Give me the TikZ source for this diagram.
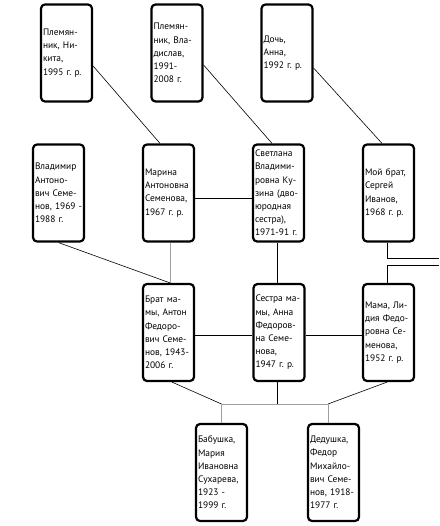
\documentclass[tikz,border=0pt]{standalone}
\usepackage{fontspec}
\setmainfont{PT Sans}
\usetikzlibrary{calc}
\hyphenpenalty=10000
\exhyphenpenalty=10000
\frenchspacing

\begin{document}
\begin{tikzpicture}[x=1pt, y=-1pt]
\tikzstyle{person} = [rectangle, draw = black, line width = 2.2pt, rounded corners = 4pt,
  minimum width = 51pt, minimum height = 97pt, text width = 47pt, inner xsep = 2pt,
  align = left, font = \fontsize{9.4}{13.2}\selectfont]
\tikzstyle{tie} = [line width = 0.9pt]
\tikzstyle{link} = [line width = 0.6pt]
\tikzstyle{kin} = [line width = 0.7pt, gray!75]
\useasboundingbox (0, 0) rectangle (439, 526);
% -----------------------------------
% Children
\node[person] (nikita) at (66.5, 53) {Племян-\\ник, Ни-\\кита,\\1995 г. р.};
\node[person] (vladislav) at (177, 53) {Племян-\\ник, Вла-\\дислав,\\1991-\\2008 г.};
\node[person] (anna) at (287, 53) {Дочь,\\Анна,\\1992 г. р.};

% -----------------------------------
% Cousins and brother
\node[person] (vladimir) at (58.5, 193) {Владимир\\Антоно-\\вич Семе-\\нов,~1969~-\\1988 г.};
\node[person] (marina) at (168.5, 193) {Марина\\Антоновна\\Семенова,\\1967 г. р.};
\node[person] (svetlana) at (278.5, 193) {Светлана\\Владими-\\ровна Ку-\\зина (дво-\\юродная\\сестра),\\1971-91 г.};
\node[person] (sergey) at (388.5, 193) {Мой брат,\\Сергей\\Иванов,\\1968 г. р.};

\draw[link] ([yshift=-13pt]nikita.east)--([xshift=-8.5pt]marina.north);
\draw[link] ([yshift=-12pt]vladislav.east)--([xshift=-6.5pt]svetlana.north);
\draw[link] ([yshift=-15pt]anna.east)--([xshift=-6.5pt]sergey.north);
\draw[tie] ([yshift=-5pt]marina.east)--([yshift=-5pt]svetlana.west);

% -----------------------------------
% Mother and her siblings
\node[person] (anton) at (168.5, 332.5) {Брат ма-\\мы, Антон\\Федоро-\\вич Семе-\\нов,~1943-\\2006 г.};
\node[person] (annaf) at (279, 332.5) {Сестра ма-\\мы, Анна\\Федоров-\\на Семе-\\нова,\\1947 г. р.};
\node[person] (lidiya) at (388.5, 332.5) {Мама, Ли-\\дия Федо-\\ровна Се-\\менова,\\1952 г. р.};

\coordinate (outA) at (439, 258);
\coordinate (outB) at (439, 265);

\draw[link] (vladimir.south)--([xshift=1.5pt]anton.north);
\draw[kin] ([xshift=1.5pt]marina.south)--([xshift=1.5pt]anton.north);
\draw[tie] ([xshift=-1.5pt]svetlana.south)--([xshift=-2pt]annaf.north);
\draw[tie] ([xshift=-1.5pt]sergey.south) |- (outA);
\draw[tie] (outB) -| ([xshift=-1.5pt]lidiya.north);
\draw[tie] ([yshift=-2.5pt]anton.east)--([yshift=-2.5pt]annaf.west);
\draw[tie] ([yshift=-2.5pt]annaf.east)--([yshift=-2.5pt]lidiya.west);

% -----------------------------------
% Grandparents
\node[person] (mariya) at (221.5, 472.5) {Бабушка,\\Мария\\Ивановна\\Сухарева,\\1923~-\\1999 г.};
\node[person] (fedor) at (333.5, 472.5) {Дедушка,\\Федор\\Михайло-\\вич Семе-\\нов,~1918-\\1977 г.};

\coordinate (jleft) at (221.5, 404);
\coordinate (jright) at (328, 404);

\draw[link] ([xshift=3.5pt]anton.south)--(jleft);
\draw[link] ([xshift=-1.5pt]lidiya.south)--(jright);
\draw[tie] ([xshift=-2pt]annaf.south)--([xshift=-2pt]annaf.south |- jleft);
\draw[kin] (jleft)--(jright);
\draw[kin] (jleft)--(mariya.north);
\draw[kin] (jright)--(jright |- fedor.north);
% -----------------------------------
\end{tikzpicture}
\end{document}
